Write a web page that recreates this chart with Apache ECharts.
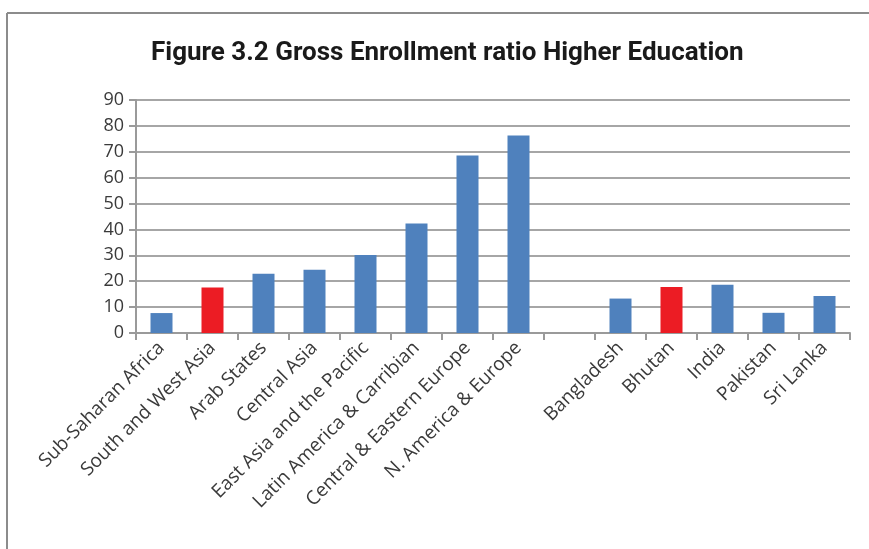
<!DOCTYPE html>
<html>
<head>
<meta charset="utf-8">
<script src="https://cdn.jsdelivr.net/npm/echarts@6/dist/echarts.min.js"></script>
<style>
html, body { margin: 0; padding: 0; background: #fff; }
#chart { width: 869px; height: 549px; }
</style>
</head>
<body>
<div id="chart"></div>
<script>
// categories (blank slot separates regions from countries)
var categories = ['Sub-Saharan Africa', 'South and West Asia', 'Arab States', 'Central Asia',
    'East Asia and the Pacific', 'Latin America & Carribian', 'Central & Eastern Europe',
    'N. America & Europe', '', 'Bangladesh', 'Bhutan', 'India', 'Pakistan', 'Sri Lanka'];
var values = [7.7, 17.6, 22.9, 24.4, 30.1, 42.3, 68.6, 76.3, null, 13.3, 17.8, 18.6, 7.8, 14.3];
var highlighted = ['South and West Asia', 'Bhutan'];
var yTicks = [0, 10, 20, 30, 40, 50, 60, 70, 80, 90];

var blue = '#4f81bd';
var red = '#ec1c24';

var barData = values.map(function (v, i) {
    if (v === null) return '-';
    return {
        value: v,
        itemStyle: { color: highlighted.indexOf(categories[i]) >= 0 ? red : blue }
    };
});

var myChart = echarts.init(document.getElementById('chart'));
var option = {
    animation: false,
    backgroundColor: '#fff',
    title: {
        text: 'Figure 3.2 Gross Enrollment ratio Higher Education',
        left: 146,
        top: 35,
        textStyle: {
            fontFamily: 'Roboto, sans-serif',
            fontWeight: 'bold',
            fontSize: 26,
            color: '#1a1a1a'
        }
    },
    graphic: [
        { type: 'line', shape: { x1: 7, y1: 13, x2: 869, y2: 13 }, style: { stroke: '#8c8c8c', lineWidth: 2 } },
        { type: 'line', shape: { x1: 7, y1: 13, x2: 7, y2: 549 }, style: { stroke: '#8c8c8c', lineWidth: 2 } }
    ],
    grid: { left: 136, right: 19, top: 100, bottom: 216 },
    xAxis: {
        type: 'category',
        data: categories,
        axisLine: { lineStyle: { color: '#9a9a9a', width: 2 } },
        axisTick: { show: true, length: 7, lineStyle: { color: '#9a9a9a', width: 2 } },
        axisLabel: {
            interval: 0,
            rotate: 45,
            margin: 12,
            fontFamily: 'Open Sans, sans-serif',
            fontSize: 19,
            color: '#3a3a3a'
        }
    },
    yAxis: {
        type: 'value',
        min: yTicks[0],
        max: yTicks[yTicks.length - 1],
        interval: 10,
        axisLine: { show: true, lineStyle: { color: '#9a9a9a', width: 2 } },
        axisTick: { show: true, length: 7, lineStyle: { color: '#9a9a9a', width: 2 } },
        splitLine: { lineStyle: { color: '#a6a6a6', width: 2 } },
        axisLabel: {
            margin: 12,
            fontFamily: 'Open Sans, sans-serif',
            fontSize: 18,
            color: '#3a3a3a'
        }
    },
    series: [{
        type: 'bar',
        data: barData,
        barWidth: 22
    }]
};
myChart.setOption(option);
</script>
</body>
</html>
